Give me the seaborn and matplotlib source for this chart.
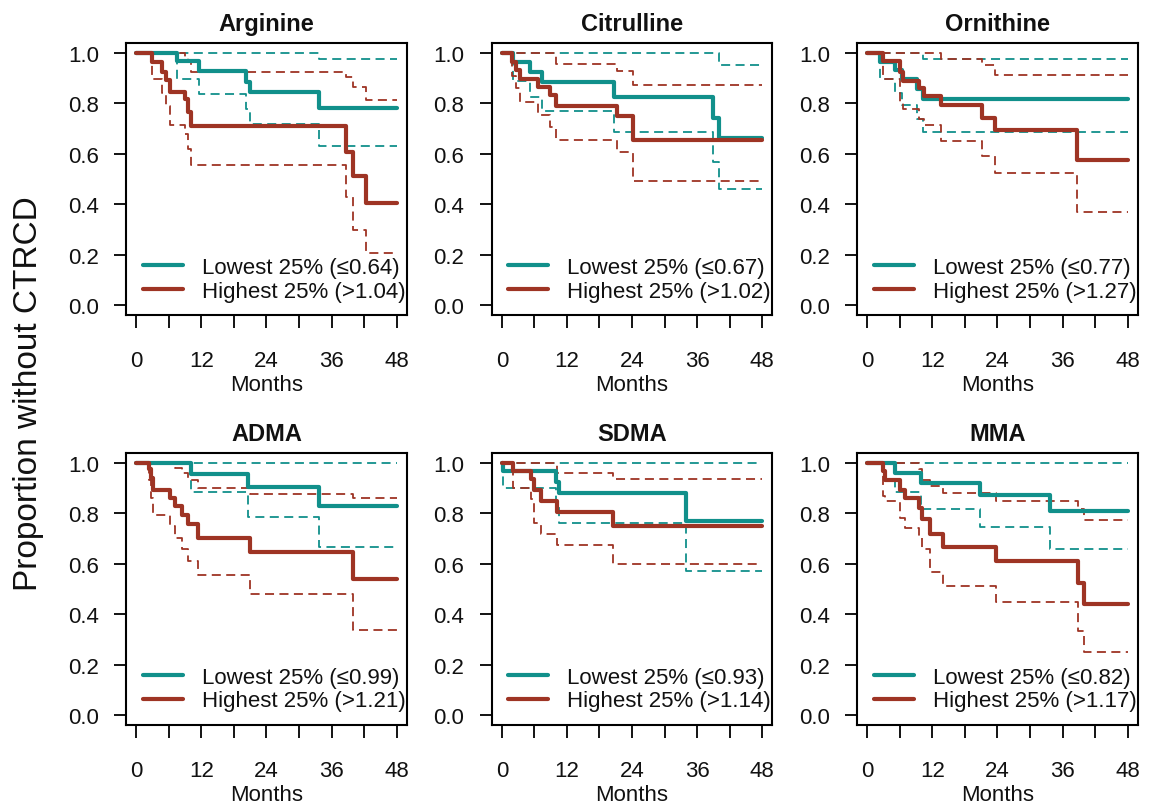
import matplotlib
matplotlib.use("Agg")
import matplotlib.pyplot as plt
import seaborn as sns

FOLLOW_UP = 48

panel_names = ["Arginine", "Citrulline", "Ornithine", "ADMA", "SDMA", "MMA"]
low_cuts = ["0.64", "0.67", "0.77", "0.99", "0.93", "0.82"]
high_cuts = ["1.04", "1.02", "1.27", "1.21", "1.14", "1.17"]

x_ticks = [0, 6, 12, 18, 24, 30, 36, 42, 48]
x_tick_labels = ["0", "", "12", "", "24", "", "36", "", "48"]
y_ticks = [0.0, 0.2, 0.4, 0.6, 0.8, 1.0]

# Kaplan-Meier estimates: event times (months),
# survival estimate, lower and upper 95% limits
arg_low_t = [0, 7.5, 11.6, 20.3, 21.0, 33.6]
arg_low_s = [1, 0.968, 0.929, 0.885, 0.845, 0.783]
arg_low_lo = [1, 0.898, 0.839, 0.78, 0.72, 0.63]
arg_low_hi = [1, 1, 1, 1, 1, 0.978]
arg_high_t = [0, 2.9, 4.7, 5.4, 6.2, 9.0, 9.6, 10.0, 38.7, 39.9, 42.3]
arg_high_s = [1, 0.966, 0.925, 0.895, 0.845, 0.819, 0.766, 0.711, 0.608, 0.511, 0.407]
arg_high_lo = [1, 0.898, 0.84, 0.79, 0.716, 0.68, 0.62, 0.555, 0.43, 0.30, 0.205]
arg_high_hi = [1, 1, 1, 1, 1, 0.98, 0.964, 0.925, 0.905, 0.865, 0.812]

cit_low_t = [0, 2.1, 5.2, 7.4, 20.7, 38.9, 40.0]
cit_low_s = [1, 0.964, 0.925, 0.885, 0.826, 0.744, 0.664]
cit_low_lo = [1, 0.89, 0.826, 0.77, 0.687, 0.568, 0.46]
cit_low_hi = [1, 1, 1, 1, 1, 1, 0.951]
cit_high_t = [0, 1.8, 2.6, 3.4, 6.6, 8.9, 9.9, 21.2, 24.1]
cit_high_s = [1, 0.964, 0.931, 0.898, 0.865, 0.832, 0.79, 0.75, 0.654]
cit_high_lo = [1, 0.91, 0.86, 0.806, 0.753, 0.707, 0.657, 0.608, 0.493]
cit_high_hi = [1, 1, 1, 1, 1, 1, 0.958, 0.927, 0.872]

orn_low_t = [0, 2.4, 5.0, 6.3, 9.1, 10.3]
orn_low_s = [1, 0.964, 0.931, 0.898, 0.859, 0.819]
orn_low_lo = [1, 0.898, 0.84, 0.793, 0.74, 0.687]
orn_low_hi = [1, 1, 1, 1, 1, 0.978]
orn_high_t = [0, 2.8, 6.0, 6.5, 9.5, 10.5, 13.6, 21.1, 23.6, 38.6]
orn_high_s = [1, 0.967, 0.925, 0.888, 0.86, 0.83, 0.795, 0.742, 0.694, 0.577]
orn_high_lo = [1, 0.898, 0.80, 0.78, 0.74, 0.713, 0.65, 0.59, 0.526, 0.369]
orn_high_hi = [1, 1, 1, 1, 1, 1, 0.975, 0.954, 0.911, 0.911]

adma_low_t = [0, 10.0, 20.5, 33.6]
adma_low_s = [1, 0.956, 0.904, 0.828]
adma_low_lo = [1, 0.884, 0.786, 0.666]
adma_low_hi = [1, 1, 1, 1]
adma_high_t = [0, 2.3, 2.6, 3.1, 6.2, 7.2, 8.4, 9.6, 11.4, 20.9, 39.9]
adma_high_s = [1, 0.974, 0.94, 0.894, 0.861, 0.828, 0.795, 0.756, 0.702, 0.646, 0.538]
adma_high_lo = [1, 0.93, 0.86, 0.795, 0.749, 0.70, 0.66, 0.611, 0.554, 0.48, 0.338]
adma_high_hi = [1, 1, 1, 1, 1, 0.98, 0.96, 0.93, 0.901, 0.875, 0.861]

sdma_low_t = [0, 0.2, 10.0, 10.6, 34.0]
sdma_low_s = [1, 0.967, 0.923, 0.879, 0.769]
sdma_low_lo = [1, 0.901, 0.84, 0.76, 0.569]
sdma_low_hi = [1, 1, 1, 1, 1]
sdma_high_t = [0, 2.1, 5.3, 5.9, 7.2, 10.1, 20.5]
sdma_high_s = [1, 0.967, 0.934, 0.894, 0.848, 0.805, 0.749]
sdma_high_lo = [1, 0.90, 0.855, 0.762, 0.716, 0.674, 0.60]
sdma_high_hi = [1, 1, 1, 1, 1, 0.96, 0.937]

mma_low_t = [0, 5.0, 9.9, 20.7, 33.7]
mma_low_s = [1, 0.958, 0.918, 0.871, 0.809]
mma_low_lo = [1, 0.884, 0.815, 0.747, 0.657]
mma_low_hi = [1, 1, 1, 1, 1]
mma_high_t = [0, 2.9, 3.2, 6.1, 6.9, 9.6, 10.1, 11.5, 13.9, 23.8, 38.8, 40.0]
mma_high_s = [1, 0.967, 0.931, 0.894, 0.861, 0.822, 0.776, 0.716, 0.668, 0.611, 0.525, 0.439]
mma_high_lo = [1, 0.87, 0.848, 0.78, 0.743, 0.70, 0.66, 0.567, 0.512, 0.446, 0.334, 0.248]
mma_high_hi = [1, 1, 1, 1, 1, 0.975, 0.93, 0.908, 0.881, 0.848, 0.815, 0.773]

low_curves = [
    (arg_low_t, arg_low_s, arg_low_lo, arg_low_hi),
    (cit_low_t, cit_low_s, cit_low_lo, cit_low_hi),
    (orn_low_t, orn_low_s, orn_low_lo, orn_low_hi),
    (adma_low_t, adma_low_s, adma_low_lo, adma_low_hi),
    (sdma_low_t, sdma_low_s, sdma_low_lo, sdma_low_hi),
    (mma_low_t, mma_low_s, mma_low_lo, mma_low_hi),
]
high_curves = [
    (arg_high_t, arg_high_s, arg_high_lo, arg_high_hi),
    (cit_high_t, cit_high_s, cit_high_lo, cit_high_hi),
    (orn_high_t, orn_high_s, orn_high_lo, orn_high_hi),
    (adma_high_t, adma_high_s, adma_high_lo, adma_high_hi),
    (sdma_high_t, sdma_high_s, sdma_high_lo, sdma_high_hi),
    (mma_high_t, mma_high_s, mma_high_lo, mma_high_hi),
]

TEAL = "#11908b"
RED = "#9e3424"

sns.set_theme(style="ticks")
plt.rcParams["font.family"] = ["Liberation Sans", "DejaVu Sans"]
plt.rcParams["axes.linewidth"] = 1.5
plt.rcParams["xtick.major.width"] = 1.3
plt.rcParams["ytick.major.width"] = 1.3
plt.rcParams["text.color"] = "#111111"
plt.rcParams["axes.labelcolor"] = "#111111"
plt.rcParams["xtick.labelcolor"] = "#111111"
plt.rcParams["ytick.labelcolor"] = "#111111"


def step_line(ax, t, v, color, lw, dashed=False):
    # carry the last value on to the end of follow-up
    x = list(t) + [FOLLOW_UP]
    y = list(v) + [v[-1]]
    ls = (0, (5.0, 3.0)) if dashed else "-"
    sns.lineplot(x=x, y=y, ax=ax, color=color, linewidth=lw, linestyle=ls,
                 drawstyle="steps-post", estimator=None, legend=False)
    return ax.lines[-1]


fig, axes = plt.subplots(2, 3, figsize=(11.52, 8.04), dpi=100)
fig.subplots_adjust(left=0.1094, right=0.9878, bottom=0.097, top=0.9453,
                    wspace=0.301, hspace=0.505)

for i, ax in enumerate(axes.flat):
    lt, ls_, llo, lhi = low_curves[i]
    ht, hs, hlo, hhi = high_curves[i]

    step_line(ax, lt, llo, TEAL, 1.3, dashed=True)
    step_line(ax, lt, lhi, TEAL, 1.3, dashed=True)
    step_line(ax, ht, hlo, RED, 1.3, dashed=True)
    step_line(ax, ht, hhi, RED, 1.3, dashed=True)
    low_line = step_line(ax, lt, ls_, TEAL, 3.0)
    high_line = step_line(ax, ht, hs, RED, 3.0)

    ax.set_xlim(-1.92, 49.92)
    ax.set_ylim(-0.04, 1.04)
    ax.set_xticks(x_ticks)
    ax.set_xticklabels(x_tick_labels)
    ax.set_yticks(y_ticks)
    ax.set_yticklabels([f"{v:.1f}" for v in y_ticks])
    ax.tick_params(axis="x", direction="out", length=9, pad=16, labelsize=16, color="black")
    ax.tick_params(axis="y", direction="out", length=9, pad=10.5, labelsize=16, color="black")
    for sp in ax.spines.values():
        sp.set_visible(True)
        sp.set_color("black")

    ax.set_title(panel_names[i], fontsize=17, fontweight="bold", pad=9)
    ax.set_xlabel("Months", fontsize=16, labelpad=2)
    ax.set_ylabel("")

    ax.legend([low_line, high_line],
              [f"Lowest 25% (\u2264{low_cuts[i]})", f"Highest 25% (>{high_cuts[i]})"],
              loc="lower left", bbox_to_anchor=(0.06, 0.05), frameon=False,
              fontsize=16, handlelength=1.8, handletextpad=0.85,
              labelspacing=0.12, borderpad=0, borderaxespad=0)

fig.text(0.025, 0.511, "Proportion without CTRCD", rotation=90,
         ha="center", va="center", fontsize=24)

fig.savefig("out.png", dpi=100, facecolor="white")
